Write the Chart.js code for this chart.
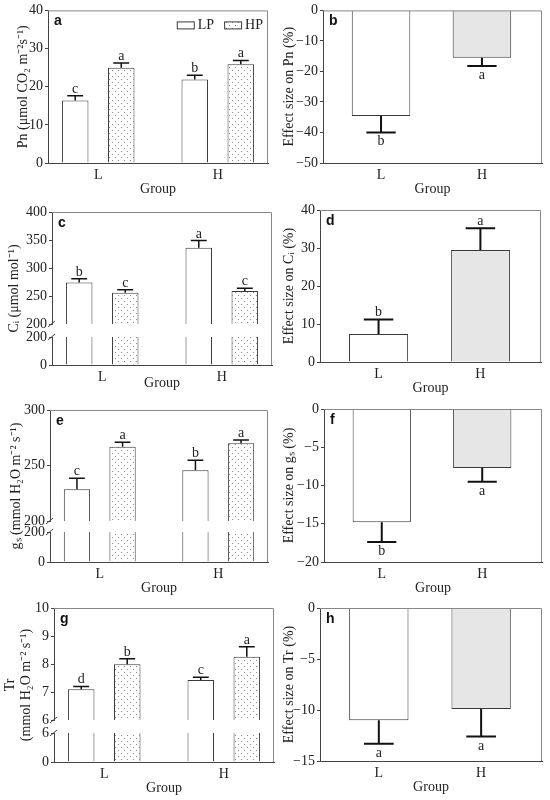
<!DOCTYPE html>
<html>
<head>
<meta charset="utf-8">
<script src="https://cdn.jsdelivr.net/npm/chart.js@4.4.1/dist/chart.umd.min.js"></script>
<style>
  html, body { margin: 0; padding: 0; background: #fff; }
  #figure { position: relative; width: 550px; height: 800px; overflow: hidden; }
  #figure canvas { position: absolute; }
</style>
</head>
<body>
<div id="figure">
  <canvas id="panelA"></canvas>
  <canvas id="panelB"></canvas>
  <canvas id="panelC"></canvas>
  <canvas id="panelD"></canvas>
  <canvas id="panelE"></canvas>
  <canvas id="panelF"></canvas>
  <canvas id="panelG"></canvas>
  <canvas id="panelH"></canvas>
</div>
<script>
const groups = ['L', 'H'];

// a / b: net photosynthesis
const pnLP = [16.4, 21.9];
const pnLPErr = [1.2, 1.1];
const pnLPLetters = ['c', 'b'];
const pnHP = [25.0, 25.9];
const pnHPErr = [1.2, 1.0];
const pnHPLetters = ['a', 'a'];
const pnTicks = [0, 10, 20, 30, 40];
const pnEffect = [-34.6, -15.5];
const pnEffectErr = [5.4, 2.7];
const pnEffectLetters = ['b', 'a'];
const pnEffectTicks = [-50, -40, -30, -20, -10, 0];

// c / d: intercellular CO2
const ciLP = [274, 336];
const ciLPErr = [7, 13];
const ciLPLetters = ['b', 'a'];
const ciHP = [256, 259];
const ciHPErr = [5, 5];
const ciHPLetters = ['c', 'c'];
const ciTicksTop = [200, 250, 300, 350, 400];
const ciTicksBottom = [0, 200];
const ciEffect = [7.4, 29.5];
const ciEffectErr = [3.8, 5.7];
const ciEffectLetters = ['b', 'a'];
const ciEffectTicks = [0, 10, 20, 30, 40];

// e / f: stomatal conductance
const gsLP = [228.6, 245.7];
const gsLPErr = [10, 9];
const gsLPLetters = ['c', 'b'];
const gsHP = [267, 270];
const gsHPErr = [4, 3];
const gsHPLetters = ['a', 'a'];
const gsTicksTop = [200, 250, 300];
const gsTicksBottom = [0, 200];
const gsEffect = [-14.8, -7.7];
const gsEffectErr = [2.6, 1.8];
const gsEffectLetters = ['b', 'a'];
const gsEffectTicks = [-20, -15, -10, -5, 0];

// g / h: transpiration
const trLP = [7.10, 7.43];
const trLPErr = [0.10, 0.10];
const trLPLetters = ['d', 'c'];
const trHP = [7.99, 8.26];
const trHPErr = [0.20, 0.36];
const trHPLetters = ['b', 'a'];
const trTicksTop = [6, 7, 8, 9, 10];
const trTicksBottom = [0, 6];
const trEffect = [-11.0, -9.9];
const trEffectErr = [2.3, 2.7];
const trEffectLetters = ['a', 'a'];
const trEffectTicks = [-15, -10, -5, 0];

const serif = "'Liberation Serif', 'Times New Roman', serif";
const axisColor = '#444';
const frameColor = '#888';
const barEdge = '#3a3a3a';

Chart.defaults.font.family = serif;
Chart.defaults.font.size = 14;
Chart.defaults.color = '#222';

// dotted fill used for the HP bars
function dotPattern() {
  const tile = document.createElement('canvas');
  tile.width = 6;
  tile.height = 6;
  const g = tile.getContext('2d');
  g.fillStyle = '#fff';
  g.fillRect(0, 0, 6, 6);
  g.fillStyle = '#8c8c8c';
  g.fillRect(1, 1, 1, 1);
  g.fillRect(4, 4, 1, 1);
  return g.createPattern(tile, 'repeat');
}
const dots = dotPattern();

const framePlugin = {
  id: 'frame',
  afterDraw(chart) {
    const { ctx, chartArea: a } = chart;
    ctx.save();
    ctx.strokeStyle = frameColor;
    ctx.lineWidth = 1;
    ctx.beginPath();
    ctx.moveTo(a.left, a.top + 0.5);
    ctx.lineTo(a.right - 0.5, a.top + 0.5);
    ctx.lineTo(a.right - 0.5, a.bottom);
    ctx.stroke();
    // slashes on a broken axis
    const top = chart.scales.yt;
    const bottom = chart.scales.yb;
    if (top && bottom) {
      ctx.strokeStyle = axisColor;
      ctx.beginPath();
      [top.bottom, bottom.top].forEach(y => {
        ctx.moveTo(a.left - 4, y + 3);
        ctx.lineTo(a.left + 3, y - 3);
      });
      ctx.stroke();
    }
    ctx.restore();
  }
};

const errorPlugin = {
  id: 'errorBars',
  afterDatasetsDraw(chart, args, opts) {
    const { ctx } = chart;
    chart.data.datasets.forEach((ds, i) => {
      if (!ds.errors) return;
      const meta = chart.getDatasetMeta(i);
      const yScale = chart.scales[meta.yAxisID];
      meta.data.forEach((bar, j) => {
        const v = ds.data[j].y;
        const end = v >= 0 ? v + ds.errors[j] : v - ds.errors[j];
        const y0 = yScale.getPixelForValue(v);
        const y1 = yScale.getPixelForValue(end);
        const half = bar.width * opts.cap / 2;
        ctx.save();
        ctx.strokeStyle = '#111';
        ctx.lineWidth = opts.lineWidth;
        ctx.beginPath();
        ctx.moveTo(bar.x, y0);
        ctx.lineTo(bar.x, y1);
        ctx.moveTo(bar.x - half, y1);
        ctx.lineTo(bar.x + half, y1);
        ctx.stroke();
        if (ds.letters) {
          ctx.fillStyle = '#222';
          ctx.font = '14px ' + serif;
          ctx.textAlign = 'center';
          ctx.textBaseline = 'alphabetic';
          ctx.fillText(ds.letters[j], bar.x, v >= 0 ? y1 - 3 : y1 + 13);
        }
        ctx.restore();
      });
    });
  }
};

const tagPlugin = {
  id: 'panelTag',
  afterDraw(chart, args, opts) {
    const { ctx, chartArea: a } = chart;
    ctx.save();
    ctx.fillStyle = '#111';
    ctx.font = "bold 14px 'Liberation Sans', Arial, sans-serif";
    ctx.textBaseline = 'alphabetic';
    ctx.fillText(opts.text, a.left + 6, a.top + 15);
    ctx.restore();
  }
};

// LP / HP key drawn inside the plot, top right
const legendPlugin = {
  id: 'insideLegend',
  afterDraw(chart, args, opts) {
    if (!opts.show) return;
    const { ctx, chartArea: a } = chart;
    ctx.save();
    ctx.font = '14px ' + serif;
    ctx.textBaseline = 'middle';
    let x = a.right - 5;
    const y = a.top + 15;
    const items = chart.data.datasets.filter(d => d.label).slice().reverse();
    items.forEach(ds => {
      x -= ctx.measureText(ds.label).width;
      ctx.fillStyle = '#222';
      ctx.fillText(ds.label, x, y);
      x -= 3 + 18;
      ctx.fillStyle = ds.backgroundColor;
      ctx.fillRect(x, y - 4, 18, 8);
      ctx.strokeStyle = barEdge;
      ctx.lineWidth = 1;
      ctx.strokeRect(x + 0.5, y - 3.5, 17, 7);
      x -= 10;
    });
    ctx.restore();
  }
};

function placeCanvas(id, box) {
  const c = document.getElementById(id);
  c.width = box.w;
  c.height = box.h;
  c.style.left = box.left + 'px';
  c.style.top = box.top + 'px';
  return c;
}

function points(values) {
  return values.map((v, i) => ({ x: i, y: v }));
}

function groupedSet(label, values, fill, axis, stack, errors, letters) {
  return {
    label: label,
    data: points(values),
    yAxisID: axis,
    stack: stack,
    backgroundColor: fill,
    borderColor: barEdge,
    borderWidth: 1,
    categoryPercentage: 0.77,
    barPercentage: 0.576,
    clip: 0,
    errors: errors,
    letters: letters
  };
}

function effectSet(values, errors, letters) {
  return {
    data: points(values),
    yAxisID: 'y',
    backgroundColor: ['#ffffff', '#e6e6e6'],
    borderColor: barEdge,
    borderWidth: 1,
    categoryPercentage: 1,
    barPercentage: 0.58,
    clip: 0,
    errors: errors,
    letters: letters
  };
}

function groupAxis(min, max, height) {
  return {
    type: 'linear',
    position: 'bottom',
    offset: false,
    min: min,
    max: max,
    afterBuildTicks: s => { s.ticks = groups.map((g, i) => ({ value: i })); },
    afterFit: s => { s.height = height; },
    grid: { display: false, drawTicks: false, offset: false },
    border: { display: true, color: axisColor },
    ticks: { padding: 4, maxRotation: 0, autoSkip: false, callback: v => groups[v] },
    title: { display: true, text: 'Group', padding: 0 }
  };
}

function valueAxis(ticks, width, extra) {
  return Object.assign({
    type: 'linear',
    position: 'left',
    min: ticks[0],
    max: ticks[ticks.length - 1],
    afterBuildTicks: s => { s.ticks = ticks.map(v => ({ value: v })); },
    afterFit: s => { s.width = width; },
    grid: { display: true, drawOnChartArea: false, drawTicks: true, tickLength: 3, color: axisColor },
    border: { display: true, color: axisColor },
    ticks: { padding: 2, autoSkip: false, callback: v => (v < 0 ? '\u2212' + Math.abs(v) : String(v)) }
  }, extra);
}

function axisTitle(text, centerX) {
  return { display: true, text: text, padding: { top: centerX - 8.4, bottom: 0 } };
}

// a plain axis that only carries the title, spanning a broken axis
function titleAxis(text, width, centerX) {
  return {
    type: 'linear',
    position: 'left',
    display: true,
    weight: 10,
    min: 0,
    max: 1,
    afterFit: s => { s.width = width; },
    grid: { display: false, drawTicks: false },
    border: { display: false },
    ticks: { display: false },
    title: axisTitle(text, centerX)
  };
}

function gapAxis(stack, weight, width) {
  return {
    type: 'linear',
    position: 'left',
    display: true,
    stack: stack,
    stackWeight: weight,
    weight: 2,
    min: 0,
    max: 1,
    afterFit: s => { s.width = width; },
    grid: { display: false, drawTicks: false },
    border: { display: false },
    ticks: { display: false }
  };
}

function options(o) {
  return {
    responsive: false,
    animation: false,
    layout: { padding: Object.assign({ left: 0, top: 0, right: 0, bottom: 0 }, o.padding) },
    plugins: {
      legend: { display: false },
      tooltip: { enabled: false },
      panelTag: { text: o.tag },
      errorBars: { cap: o.cap, lineWidth: o.errWidth },
      insideLegend: { show: !!o.legend }
    },
    scales: o.scales
  };
}

const plugins = [framePlugin, errorPlugin, tagPlugin, legendPlugin];

function brokenPanel(id, box, o) {
  const stack = id;
  return new Chart(placeCanvas(id, box), {
    type: 'bar',
    data: {
      datasets: [
        groupedSet('LP', o.lp, '#ffffff', 'yt', 'LP', o.lpErr, o.lpLetters),
        groupedSet('HP', o.hp, dots, 'yt', 'HP', o.hpErr, o.hpLetters),
        groupedSet('LP', o.lp, '#ffffff', 'yb', 'LP'),
        groupedSet('HP', o.hp, dots, 'yb', 'HP')
      ]
    },
    options: options({
      padding: o.padding,
      tag: o.tag,
      cap: 0.6,
      errWidth: 1.5,
      scales: {
        x: groupAxis(-0.42, 1.42, o.xHeight),
        yTitle: titleAxis(o.title, 4, o.titleX),
        yt: valueAxis(o.topTicks, o.axisLeft - 4, { stack: stack, stackWeight: o.weights[0], weight: 3, stacked: false }),
        yg: gapAxis(stack, o.weights[1], o.axisLeft - 4),
        yb: valueAxis(o.bottomTicks, o.axisLeft - 4, { stack: stack, stackWeight: o.weights[2], weight: 1, stacked: false })
      }
    }),
    plugins: plugins
  });
}

function effectPanel(id, box, o) {
  return new Chart(placeCanvas(id, box), {
    type: 'bar',
    data: { datasets: [effectSet(o.values, o.errors, o.letters)] },
    options: options({
      padding: o.padding,
      tag: o.tag,
      cap: 0.5,
      errWidth: 2,
      scales: {
        x: groupAxis(-0.575, 1.595, 35),
        y: valueAxis(o.ticks, o.width, { title: axisTitle(o.title, 14) })
      }
    }),
    plugins: plugins
  });
}

// a
new Chart(placeCanvas('panelA', { left: 0, top: 0, w: 275, h: 198 }), {
  type: 'bar',
  data: {
    datasets: [
      groupedSet('LP', pnLP, '#ffffff', 'y', undefined, pnLPErr, pnLPLetters),
      groupedSet('HP', pnHP, dots, 'y', undefined, pnHPErr, pnHPLetters)
    ]
  },
  options: options({
    padding: { top: 10, right: 7 },
    tag: 'a',
    legend: true,
    cap: 0.6,
    errWidth: 1.5,
    scales: {
      x: groupAxis(-0.42, 1.42, 35),
      y: valueAxis(pnTicks, 48, { title: axisTitle('Pn (\u03bcmol CO\u2082 m\u207b\u00b2s\u207b\u00b9)', 23) })
    }
  }),
  plugins: plugins
});

// b
effectPanel('panelB', { left: 275, top: 0, w: 275, h: 198 }, {
  values: pnEffect, errors: pnEffectErr, letters: pnEffectLetters, ticks: pnEffectTicks,
  title: 'Effect size on Pn (%)', tag: 'b', width: 48, padding: { top: 10, right: 8 }
});

// c
brokenPanel('panelC', { left: 0, top: 195, w: 275, h: 197 }, {
  lp: ciLP, lpErr: ciLPErr, lpLetters: ciLPLetters,
  hp: ciHP, hpErr: ciHPErr, hpLetters: ciHPLetters,
  topTicks: ciTicksTop, bottomTicks: ciTicksBottom, weights: [112, 13, 28],
  title: 'C\u1d62 (\u03bcmol mol\u207b\u00b9)', titleX: 14, axisLeft: 52,
  tag: 'c', xHeight: 27, padding: { top: 17, right: 3 }
});

// d
effectPanel('panelD', { left: 275, top: 195, w: 275, h: 202 }, {
  values: ciEffect, errors: ciEffectErr, letters: ciEffectLetters, ticks: ciEffectTicks,
  title: 'Effect size on C\u1d62 (%)', tag: 'd', width: 45, padding: { top: 15, right: 9 }
});

// e
brokenPanel('panelE', { left: 0, top: 395, w: 275, h: 202 }, {
  lp: gsLP, lpErr: gsLPErr, lpLetters: gsLPLetters,
  hp: gsHP, hpErr: gsHPErr, hpLetters: gsHPLetters,
  topTicks: gsTicksTop, bottomTicks: gsTicksBottom, weights: [111, 11, 30],
  title: 'g\u209b (mmol H\u2082O m\u207b\u00b2 s\u207b\u00b9)', titleX: 16, axisLeft: 50,
  tag: 'e', xHeight: 35, padding: { top: 15, right: 7 }
});

// f
effectPanel('panelF', { left: 275, top: 395, w: 275, h: 202 }, {
  values: gsEffect, errors: gsEffectErr, letters: gsEffectLetters, ticks: gsEffectTicks,
  title: 'Effect size on g\u209b (%)', tag: 'f', width: 49, padding: { top: 14, right: 8 }
});

// g
brokenPanel('panelG', { left: 0, top: 590, w: 275, h: 207 }, {
  lp: trLP, lpErr: trLPErr, lpLetters: trLPLetters,
  hp: trHP, hpErr: trHPErr, hpLetters: trHPLetters,
  topTicks: trTicksTop, bottomTicks: trTicksBottom, weights: [112, 13, 29],
  title: ['Tr', '(mmol H\u2082O m\u207b\u00b2 s\u207b\u00b9)'], titleX: 10, axisLeft: 54,
  tag: 'g', xHeight: 35, padding: { top: 18, right: 1 }
});

// h
effectPanel('panelH', { left: 275, top: 590, w: 275, h: 206 }, {
  values: trEffect, errors: trEffectErr, letters: trEffectLetters, ticks: trEffectTicks,
  title: 'Effect size on Tr (%)', tag: 'h', width: 45, padding: { top: 18, right: 8 }
});
</script>
</body>
</html>
